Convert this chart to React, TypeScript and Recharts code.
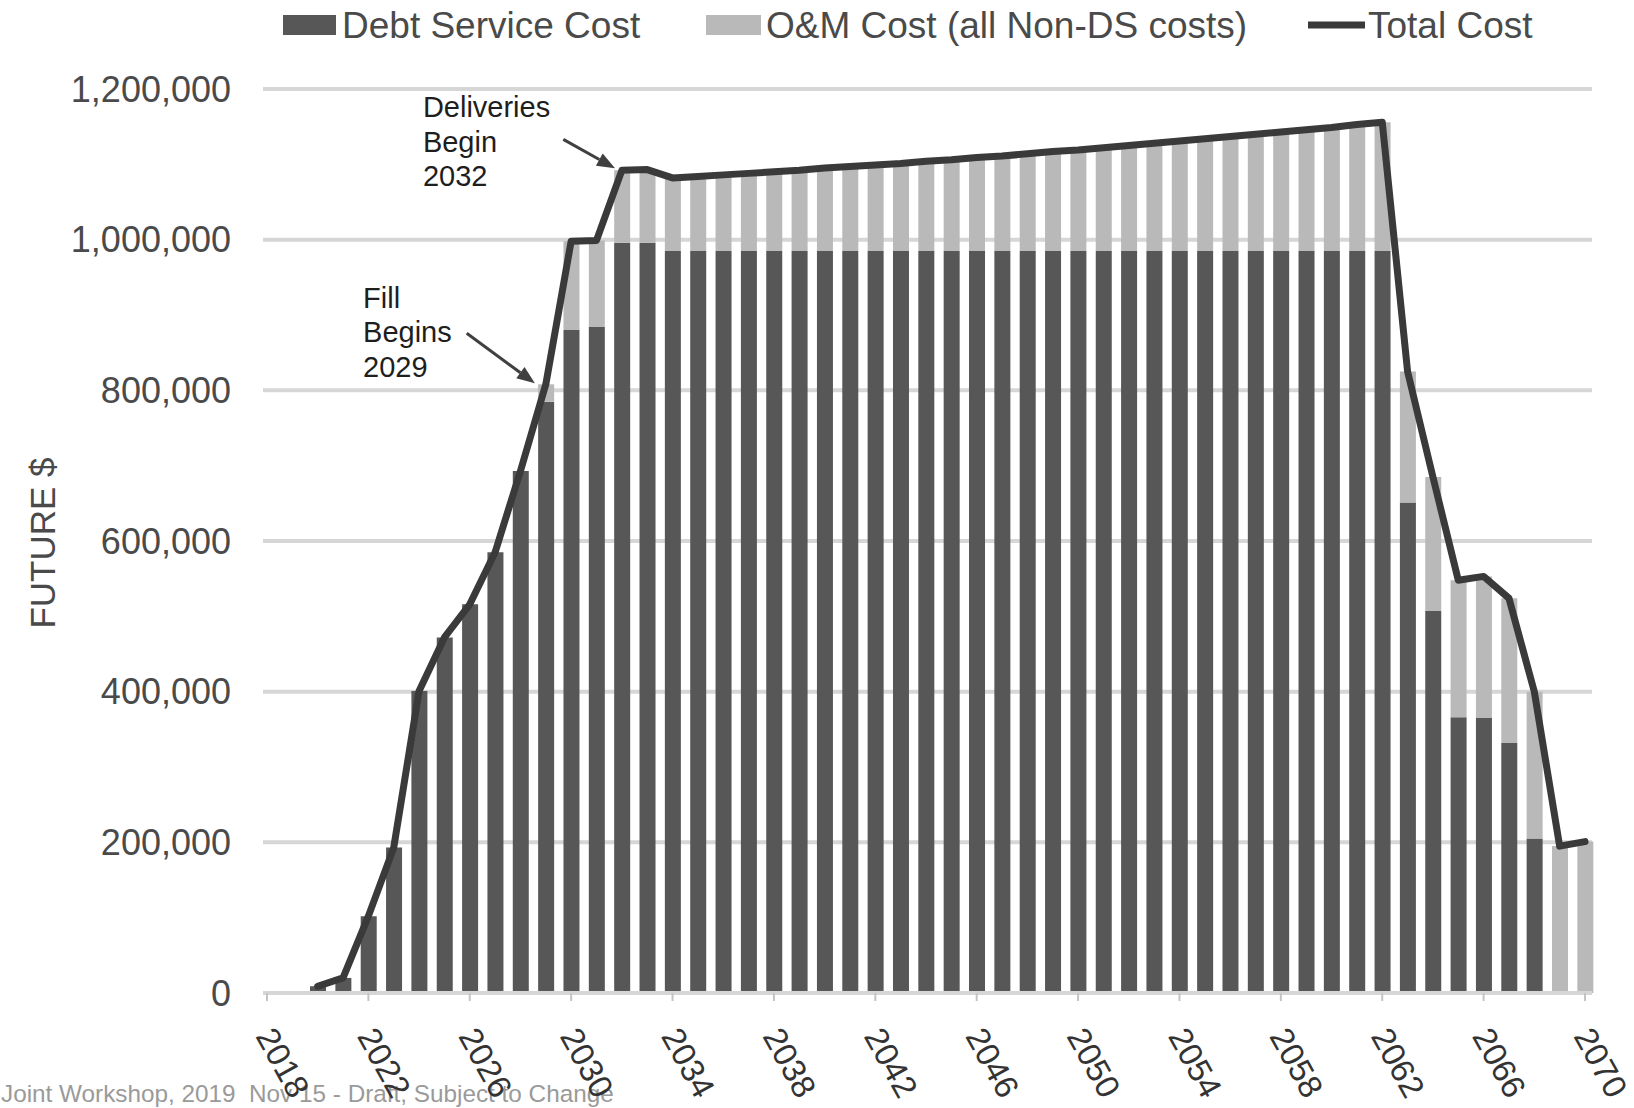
import React from 'react';
import {
  ComposedChart,
  Bar,
  Line,
  XAxis,
  YAxis,
  CartesianGrid,
  Legend,
  ReferenceLine,
  ReferenceDot,
  Label,
} from 'recharts';

// ---------- data ----------
const years = [
  2018, 2019, 2020, 2021, 2022, 2023, 2024, 2025, 2026, 2027, 2028, 2029, 2030,
  2031, 2032, 2033, 2034, 2035, 2036, 2037, 2038, 2039, 2040, 2041, 2042, 2043,
  2044, 2045, 2046, 2047, 2048, 2049, 2050, 2051, 2052, 2053, 2054, 2055, 2056,
  2057, 2058, 2059, 2060, 2061, 2062, 2063, 2064, 2065, 2066, 2067, 2068, 2069,
  2070,
];

const debtService = [
  0, 0, 9000, 20000, 102000, 193000, 401000, 472000, 516000, 585000, 693000,
  785000, 880000, 884000, 996000, 996000,
  985000, 985000, 985000, 985000, 985000, 985000, 985000, 985000, 985000,
  985000, 985000, 985000, 985000, 985000, 985000, 985000, 985000, 985000,
  985000, 985000, 985000, 985000, 985000, 985000, 985000, 985000, 985000,
  985000, 985000,
  651000, 507000, 366000, 365000, 332000, 205000, 0, 0,
];

const omCost = [
  0, 0, 0, 0, 0, 0, 0, 0, 0, 0, 0,
  23000, 118000, 115000, 96000, 97000,
  97000, 99000, 101000, 103000, 105000, 107000, 110000, 112000, 114000, 116000,
  119000, 121000, 124000, 126000, 129000, 132000, 134000, 137000, 140000,
  143000, 146000, 149000, 152000, 155000, 158000, 161000, 164000, 168000,
  171000,
  174000, 178000, 182000, 188000, 192000, 195000, 195000, 201000,
];

const totalCost: (number | null)[] = [
  null, null, 9000, 20000, 102000, 193000, 401000, 472000, 516000, 585000,
  693000, 808000, 998000, 999000, 1092000, 1093000,
  1082000, 1084000, 1086000, 1088000, 1090000, 1092000, 1095000, 1097000,
  1099000, 1101000, 1104000, 1106000, 1109000, 1111000, 1114000, 1117000,
  1119000, 1122000, 1125000, 1128000, 1131000, 1134000, 1137000, 1140000,
  1143000, 1146000, 1149000, 1153000, 1156000,
  825000, 685000, 548000, 553000, 524000, 400000, 195000, 201000,
];

const xTicks = [2018, 2022, 2026, 2030, 2034, 2038, 2042, 2046, 2050, 2054, 2058, 2062, 2066, 2070];
const yTicks = [0, 200000, 400000, 600000, 800000, 1000000, 1200000];

const legendLabels = ['Debt Service Cost', 'O&M Cost (all Non-DS costs)', 'Total Cost'];
const yAxisTitle = 'FUTURE $';
const footerText = 'Joint Workshop, 2019  Nov 15 - Draft, Subject to Change';

const annotationTexts = [
  { lines: ['Deliveries', 'Begin', '2032'], x: 2024.15, y: 1162800 },
  { lines: ['Fill', 'Begins', '2029'], x: 2021.79, y: 909300 },
];
const annotationArrows = [
  { from: { x: 2029.69, y: 1133200 }, to: { x: 2031.73, y: 1094700 } },
  { from: { x: 2025.88, y: 875700 }, to: { x: 2028.57, y: 809300 } },
];

// ---------- styles ----------
const FONT = '"Liberation Sans", Arial, Helvetica, sans-serif';
const DS_COLOR = '#575757';
const OM_COLOR = '#b9b9b9';
const LINE_COLOR = '#3a3a3a';
const GRID_COLOR = '#d6d6d6';
const TEXT_COLOR = '#4a4a4a';

const data = years.map((year, i) => ({
  year,
  ds: debtService[i],
  om: omCost[i],
  total: totalCost[i],
}));

const fmt = (v: number) => String(v).replace(/\B(?=(\d{3})+(?!\d))/g, ',');

const XTick = (props: any) => {
  const { x, y, payload } = props;
  const px = x - 12;
  const py = y + 33;
  return (
    <text
      x={px}
      y={py}
      transform={`rotate(61, ${px}, ${py})`}
      textAnchor="start"
      fontSize={33}
      fill="#333333"
      fontFamily={FONT}
    >
      {payload.value}
    </text>
  );
};

const YTitle = (props: any) => {
  const vb = props.viewBox || { x: 63, y: 89, width: 200, height: 904 };
  const cx = vb.x - 21;
  const cy = vb.y + vb.height / 2 + 2;
  return (
    <text
      x={cx}
      y={cy}
      transform={`rotate(-90, ${cx}, ${cy})`}
      textAnchor="middle"
      dominantBaseline="central"
      fontSize={35}
      fill={TEXT_COLOR}
      fontFamily={FONT}
    >
      {yAxisTitle}
    </text>
  );
};

const ArrowShape = (p: any) => {
  const { x1, y1, x2, y2 } = p;
  const dx = x2 - x1;
  const dy = y2 - y1;
  const len = Math.hypot(dx, dy) || 1;
  const ux = dx / len;
  const uy = dy / len;
  const hl = 18;
  const hw = 7;
  const bx = x2 - ux * hl;
  const by = y2 - uy * hl;
  return (
    <g>
      <line x1={x1} y1={y1} x2={bx} y2={by} stroke="#404040" strokeWidth={3} />
      <polygon
        points={`${x2},${y2} ${bx - uy * hw},${by + ux * hw} ${bx + uy * hw},${by - ux * hw}`}
        fill="#404040"
      />
    </g>
  );
};

const makeTextShape = (lines: string[]) => (p: any) => {
  const { cx, cy } = p;
  return (
    <text x={cx} y={cy} fontSize={29} fill="#1e1e1e" fontFamily={FONT}>
      {lines.map((l, i) => (
        <tspan key={i} x={cx} y={cy + i * 34.5}>
          {l}
        </tspan>
      ))}
    </text>
  );
};

const renderLegend = () => (
  <svg width={1634} height={89} style={{ display: 'block' }}>
    <rect x={283} y={15} width={53} height={20} fill={DS_COLOR} />
    <text x={342} y={37.5} fontSize={37} fill={TEXT_COLOR} fontFamily={FONT}>
      {legendLabels[0]}
    </text>
    <rect x={706} y={15} width={55} height={20} fill={OM_COLOR} />
    <text x={766} y={37.5} fontSize={37} fill={TEXT_COLOR} fontFamily={FONT}>
      {legendLabels[1]}
    </text>
    <line x1={1308} x2={1365} y1={25} y2={25} stroke={LINE_COLOR} strokeWidth={7} />
    <text x={1368} y={37.5} fontSize={37} fill={TEXT_COLOR} fontFamily={FONT}>
      {legendLabels[2]}
    </text>
  </svg>
);

export default function App() {
  return (
    <div style={{ position: 'absolute', left: 0, top: 0, width: 1634, height: 1108, background: '#ffffff' }}>
      <svg width={1634} height={1108} style={{ position: 'absolute', left: 0, top: 0 }}>
        <text x={1} y={1102} fontSize={24.3} fill="#9a9a9a" fontFamily={FONT} style={{ whiteSpace: 'pre' }}>
          {footerText}
        </text>
      </svg>
      <div style={{ position: 'absolute', left: 0, top: 0 }}>
        <ComposedChart
          width={1634}
          height={1108}
          data={data}
          margin={{ top: 0, right: 42, bottom: 55, left: 63 }}
          barGap={0}
          style={{ fontFamily: FONT }}
        >
          <CartesianGrid vertical={false} stroke={GRID_COLOR} strokeWidth={4} />
          <XAxis
            dataKey="year"
            type="number"
            domain={[2018, 2070]}
            ticks={xTicks}
            interval={0}
            padding={{ left: 4, right: 7 }}
            height={60}
            tick={<XTick />}
            tickSize={8}
            tickMargin={2}
            axisLine={{ stroke: GRID_COLOR, strokeWidth: 4 }}
            tickLine={{ stroke: '#c4c4c4', strokeWidth: 2 }}
          />
          <YAxis
            domain={[0, 1200000]}
            ticks={yTicks}
            interval={0}
            width={200}
            axisLine={false}
            tickLine={false}
            tickSize={0}
            tickMargin={32}
            tickFormatter={fmt}
            tick={{ fontSize: 36, fill: TEXT_COLOR, fontFamily: FONT }}
          >
            <Label content={<YTitle />} />
          </YAxis>
          <Legend
            verticalAlign="top"
            content={renderLegend}
            wrapperStyle={{ left: 0, top: 0, width: 1634, height: 89, margin: 0, padding: 0, lineHeight: 0 }}
          />
          <Bar dataKey="ds" name={legendLabels[0]} stackId="cost" fill={DS_COLOR} barSize={16} isAnimationActive={false} />
          <Bar dataKey="om" name={legendLabels[1]} stackId="cost" fill={OM_COLOR} barSize={16} isAnimationActive={false} />
          <Line
            dataKey="total"
            name={legendLabels[2]}
            type="linear"
            stroke={LINE_COLOR}
            strokeWidth={7}
            strokeLinejoin="round"
            strokeLinecap="round"
            dot={false}
            activeDot={false}
            connectNulls={false}
            isAnimationActive={false}
          />
          {annotationArrows.map((a, i) => (
            <ReferenceLine key={`arr${i}`} segment={[a.from, a.to]} shape={ArrowShape} ifOverflow="visible" />
          ))}
          {annotationTexts.map((t, i) => (
            <ReferenceDot key={`txt${i}`} x={t.x} y={t.y} r={0} shape={makeTextShape(t.lines)} ifOverflow="visible" />
          ))}
        </ComposedChart>
      </div>
    </div>
  );
}
